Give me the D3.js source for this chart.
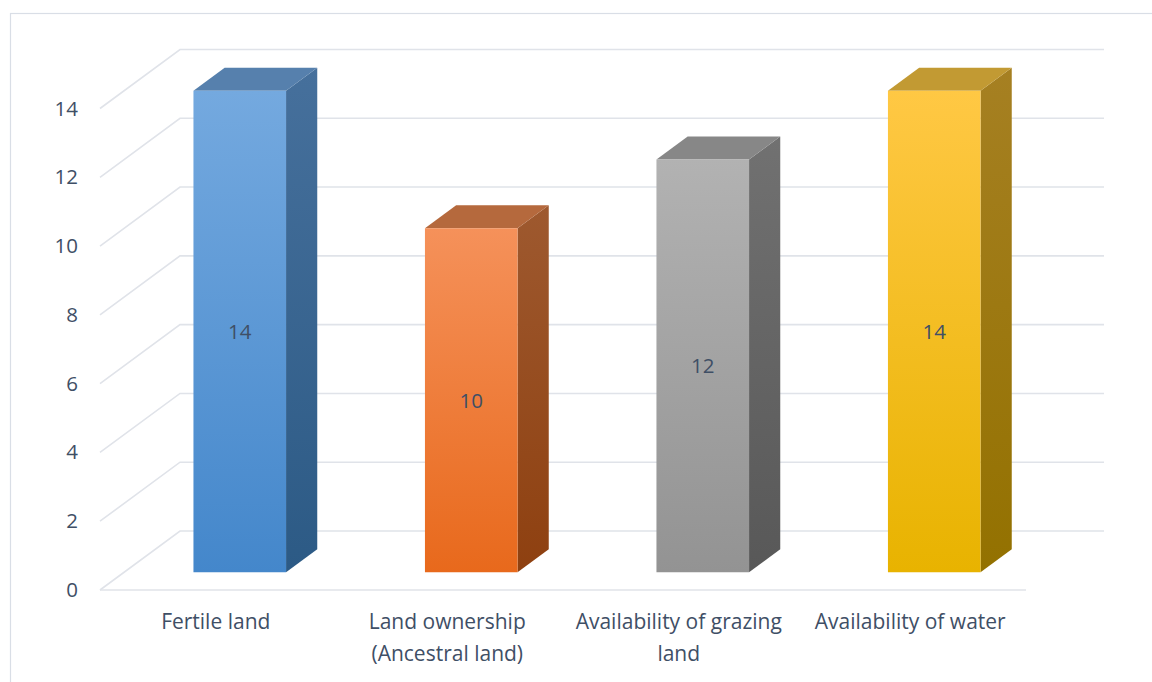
<!DOCTYPE html>
<html>
<head>
<meta charset="utf-8">
<script src="https://cdn.jsdelivr.net/npm/d3@7"></script>
<style>
  html, body { margin: 0; padding: 0; background: #fff; }
  svg { display: block; font-family: "Open Sans", sans-serif; }
</style>
</head>
<body>
<div id="chart"></div>
<script>
const categories = [
  "Fertile land",
  "Land ownership (Ancestral land)",
  "Availability of grazing land",
  "Availability of water"
];
const values = [14, 10, 12, 14];
const yTicks = [0, 2, 4, 6, 8, 10, 12, 14];

// front-face gradient top/bottom, side top/bottom, top face
const palette = [
  { front: ["#74a9df", "#4487cb"], side: ["#46709c", "#2c5a85"], top: "#5680ad" },
  { front: ["#f5915a", "#e8691c"], side: ["#9e592f", "#8e4010"], top: "#b5693d" },
  { front: ["#b2b2b2", "#939393"], side: ["#717171", "#585858"], top: "#878787" },
  { front: ["#ffc844", "#e8b300"], side: ["#a68022", "#937100"], top: "#c29a33" }
];

const width = 1152;
const height = 682;
const floorLeft = 100;
const floorRight = 1026;
const depthX = 80;
const depthY = -59;
const barFront = 0.3;
const barBack = 0.69;
const textColor = "#3f4f66";
const gridColor = "#e0e3e9";

const x = d3.scaleBand().domain(categories).range([floorLeft, floorRight]).paddingInner(0.6).paddingOuter(0.3);
const y = d3.scaleLinear().domain([0, 14]).range([590, 108.5]);

// project a point at front x, depth t (0 front .. 1 back), value v
const P = (px, t, v) => [px + t * depthX, y(v) + t * depthY];

const svg = d3.select("#chart").append("svg")
  .attr("width", width)
  .attr("height", height);

svg.append("rect")
  .attr("x", 10.5).attr("y", 13.5)
  .attr("width", width + 10).attr("height", height + 10)
  .attr("fill", "#fff")
  .attr("stroke", "#d9dee6")
  .attr("stroke-width", 1.2);

const defs = svg.append("defs");
palette.forEach((c, i) => {
  const gf = defs.append("linearGradient").attr("id", "front" + i)
    .attr("x1", 0).attr("y1", 0).attr("x2", 0).attr("y2", 1);
  gf.append("stop").attr("offset", "0%").attr("stop-color", c.front[0]);
  gf.append("stop").attr("offset", "100%").attr("stop-color", c.front[1]);
  const gs = defs.append("linearGradient").attr("id", "side" + i)
    .attr("x1", 0).attr("y1", 0).attr("x2", 0).attr("y2", 1);
  gs.append("stop").attr("offset", "0%").attr("stop-color", c.side[0]);
  gs.append("stop").attr("offset", "100%").attr("stop-color", c.side[1]);
});

// gridlines: left wall diagonal + back wall horizontal
const grid = svg.append("g")
  .attr("fill", "none")
  .attr("stroke", gridColor)
  .attr("stroke-width", 1.6);

grid.selectAll("path.gl")
  .data(yTicks)
  .join("path")
  .attr("class", "gl")
  .attr("d", d => d3.line()([P(floorLeft, 0, d), P(floorLeft, 1, d), P(floorRight, 1, d).map((v, k) => k === 0 ? v - 2 : v)]));

// floor front edge
grid.append("path")
  .attr("d", d3.line()([P(floorLeft, 0, 0), P(floorRight, 0, 0)]));

// bars
const bars = svg.append("g")
  .selectAll("g")
  .data(categories.map((c, i) => ({ c, v: values[i], i })))
  .join("g");

const bw = x.bandwidth();

bars.append("path")
  .attr("fill", d => `url(#side${d.i})`)
  .attr("d", d => {
    const x1 = x(d.c) + bw;
    return d3.line()([P(x1, barFront, 0), P(x1, barBack, 0), P(x1, barBack, d.v), P(x1, barFront, d.v)]) + "Z";
  });

bars.append("path")
  .attr("fill", d => palette[d.i].top)
  .attr("d", d => {
    const x0 = x(d.c), x1 = x(d.c) + bw;
    return d3.line()([P(x0, barFront, d.v), P(x1, barFront, d.v), P(x1, barBack, d.v), P(x0, barBack, d.v)]) + "Z";
  });

bars.append("path")
  .attr("fill", d => `url(#front${d.i})`)
  .attr("d", d => {
    const x0 = x(d.c), x1 = x(d.c) + bw;
    return d3.line()([P(x0, barFront, 0), P(x1, barFront, 0), P(x1, barFront, d.v), P(x0, barFront, d.v)]) + "Z";
  });

// value labels
bars.append("text")
  .attr("x", d => P(x(d.c) + bw / 2, barFront, d.v / 2)[0])
  .attr("y", d => P(x(d.c) + bw / 2, barFront, d.v / 2)[1])
  .attr("dy", "0.35em")
  .attr("text-anchor", "middle")
  .attr("fill", textColor)
  .attr("font-size", 20.5)
  .text(d => d.v);

// y axis labels
svg.append("g")
  .attr("transform", `translate(${floorLeft},0)`)
  .call(d3.axisLeft(y).tickValues(yTicks).tickSize(0).tickPadding(22))
  .attr("font-family", null)
  .attr("font-size", 20.5)
  .call(g => g.select(".domain").remove())
  .call(g => g.selectAll("text").attr("fill", textColor));

// category labels
function wrap(text, maxWidth) {
  text.each(function () {
    const t = d3.select(this);
    const words = t.text().split(/\s+/);
    const xPos = t.attr("x");
    t.text(null);
    let line = [];
    let tspan = t.append("tspan").attr("x", xPos).attr("dy", 0);
    words.forEach(w => {
      line.push(w);
      tspan.text(line.join(" "));
      if (tspan.node().getComputedTextLength() > maxWidth && line.length > 1) {
        line.pop();
        tspan.text(line.join(" "));
        line = [w];
        tspan = t.append("tspan").attr("x", xPos).attr("dy", "1.5em").text(w);
      }
    });
  });
}

svg.append("g")
  .selectAll("text")
  .data(categories)
  .join("text")
  .attr("x", d => x(d) + bw / 2)
  .attr("y", 629)
  .attr("text-anchor", "middle")
  .attr("fill", textColor)
  .attr("font-size", 21)
  .text(d => d)
  .call(wrap, 226);
</script>
</body>
</html>
